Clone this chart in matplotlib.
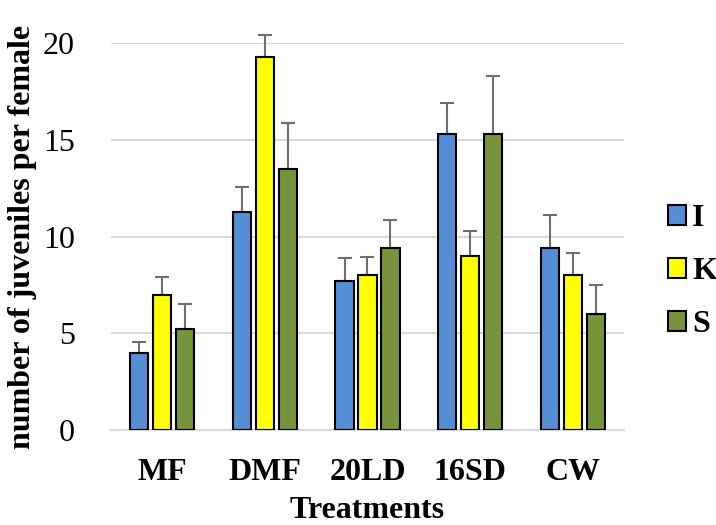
import numpy as np
import matplotlib
matplotlib.use('Agg')
import matplotlib.pyplot as plt

treatments = ['MF', 'DMF', '20LD', '16SD', 'CW']
series = ['I', 'K', 'S']
vals_I = [4.0, 11.3, 7.7, 15.3, 9.4]
vals_K = [7.0, 19.3, 8.0, 9.0, 8.0]
vals_S = [5.2, 13.5, 9.4, 15.3, 6.0]
err_I = [0.55, 1.25, 1.2, 1.6, 1.7]
err_K = [0.9, 1.15, 0.95, 1.3, 1.15]
err_S = [1.3, 2.4, 1.45, 3.0, 1.5]
colors = ['#558ED5', '#FFFF00', '#77933C']

plt.rcParams['font.family'] = 'Liberation Serif'

fig = plt.figure(figsize=(7.16, 5.25), dpi=100)
ax = fig.add_axes([0.155, 0.181, 0.7165, 0.7365])

x = np.arange(len(treatments))
w = 0.178
step = 0.224
allvals = [vals_I, vals_K, vals_S]
allerr = [err_I, err_K, err_S]
for i in range(3):
    xs = x + (i - 1) * step
    ax.bar(xs, allvals[i], w, color=colors[i], edgecolor='black', lw=1.5,
           label=series[i], zorder=3)
    ax.errorbar(xs, allvals[i], yerr=[np.zeros(len(xs)), allerr[i]], fmt='none',
                ecolor='#6f6f6f', elinewidth=1.5, capsize=5, capthick=1.5,
                zorder=2, clip_on=False)

ax.set_xlim(-0.5, 4.5)
ax.set_ylim(0, 20)
ax.set_yticks([0, 5, 10, 15, 20])
ax.grid(axis='y', color='#d9d9d9', lw=1.5, zorder=0)
ax.set_axisbelow(True)
for s in ['top', 'right', 'left']:
    ax.spines[s].set_visible(False)
ax.spines['bottom'].set_color('#d9d9d9')
ax.spines['bottom'].set_linewidth(1.5)
ax.tick_params(axis='y', length=0, pad=26, labelsize=23)
ax.tick_params(axis='x', length=0, pad=20, labelsize=23)
ax.set_xticks(x)
ax.set_xticklabels(treatments, fontweight='bold')
ax.set_xlabel('Treatments', fontsize=23, fontweight='bold', labelpad=7)
ax.set_ylabel('number of juveniles per female', fontsize=23, fontweight='bold', labelpad=4)

leg = ax.legend(loc='center left', bbox_to_anchor=(1.086, 0.409), frameon=False,
                prop={'size': 23, 'weight': 'bold'}, handlelength=0.55,
                handleheight=0.55, handletextpad=0.2, labelspacing=0.75,
                borderaxespad=0, borderpad=0)

fig.savefig('out.png', dpi=100)
